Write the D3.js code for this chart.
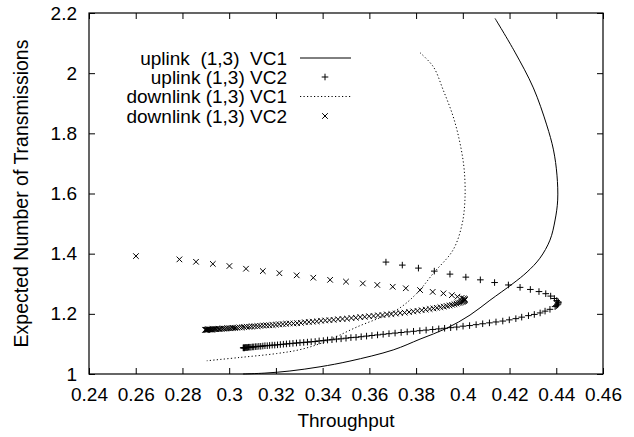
<!DOCTYPE html>
<html><head><meta charset="utf-8">
<script src="https://cdn.jsdelivr.net/npm/d3@7"></script>
<style>
html,body{margin:0;padding:0;background:#fff;}
svg text{font-family:"Liberation Sans",Arial,Helvetica,sans-serif;fill:#000;}
</style></head>
<body><svg id="c" width="634" height="437"></svg>
<script>
// ---- data ----
const xTicks = [0.24,0.26,0.28,0.30,0.32,0.34,0.36,0.38,0.40,0.42,0.44,0.46];
const xTickLabels = ["0.24","0.26","0.28","0.3","0.32","0.34","0.36","0.38","0.4","0.42","0.44","0.46"];
const yTicks = [1,1.2,1.4,1.6,1.8,2,2.2];
const yTickLabels = ["1","1.2","1.4","1.6","1.8","2","2.2"];
const seriesNames = ["uplink  (1,3)  VC1","uplink (1,3) VC2","downlink (1,3) VC1","downlink (1,3) VC2"];
const xTitle = "Throughput";
const yTitle = "Expected Number of Transmissions";

// uplink VC1 (solid line)
const upVC1 = [[0.4138,2.182],[0.4223,2.070],[0.4302,1.951],[0.4359,1.828],[0.4388,1.745],[0.4403,1.661],[0.4406,1.578],
 [0.4395,1.512],[0.4373,1.445],[0.4330,1.385],[0.4275,1.339],[0.4215,1.301],[0.4116,1.245],[0.4031,1.196],[0.3931,1.152],
 [0.3817,1.116],[0.3702,1.080],[0.3517,1.043],[0.3389,1.024],[0.3260,1.010],[0.3153,1.003],[0.3059,1.000]];

// downlink VC1 (dotted line)
const downVC1 = [[0.3817,2.068],[0.3874,2.021],[0.3916,1.944],[0.3959,1.855],[0.3988,1.767],[0.4006,1.678],[0.4009,1.578],
 [0.3996,1.495],[0.3958,1.412],[0.3874,1.335],[0.3803,1.268],[0.3717,1.213],[0.3546,1.156],[0.3403,1.105],[0.3303,1.081],
 [0.3203,1.068],[0.3046,1.055],[0.2904,1.044]];

// uplink VC2 (+ markers)
const upVC2x = [0.3060,0.3062,0.3064,0.3066,0.3069,0.3072,0.3075,0.3079,0.3083,0.3088,0.3093,0.3099,0.3105,0.3112,0.3119,0.3127,
 0.3135,0.3144,0.3153,0.3163,0.3173,0.3184,0.3195,0.3207,0.3219,0.3232,0.3245,0.3259,0.3273,0.3288,0.3303,0.3319,0.3335,0.3351,
 0.3368,0.3385,0.3403,0.3421,0.3440,0.3459,0.3479,0.3500,0.3521,0.3543,0.3565,0.3588,0.3611,0.3635,0.3659,0.3684,0.3710,0.3736,
 0.3762,0.3789,0.3816,0.3843,0.3871,0.3897,0.3922,0.3948,0.3974,0.4001,0.4029,0.4057,0.4085,0.4114,0.4142,0.4171,0.4199,0.4227,
 0.4252,0.4281,0.4306,0.4331,0.4352,0.4373,0.4395,0.4400,0.4405,0.4408,0.4409,0.4408,
 0.4402,0.4392,0.4376,0.4355,0.4326,0.4289,0.4245,0.4195,0.4136,0.4075,0.4013,0.3945,0.3878,0.3810,0.3741,0.3671];
const upVC2y = [1.087,1.087,1.087,1.087,1.088,1.088,1.088,1.088,1.089,1.089,1.089,1.090,1.090,1.091,1.091,1.092,
 1.092,1.093,1.094,1.094,1.095,1.096,1.096,1.097,1.098,1.099,1.100,1.101,1.102,1.103,1.104,1.105,1.106,1.107,
 1.108,1.110,1.111,1.113,1.114,1.116,1.117,1.119,1.121,1.122,1.124,1.126,1.128,1.130,1.132,1.134,1.136,1.138,
 1.140,1.142,1.144,1.146,1.148,1.150,1.152,1.154,1.156,1.159,1.161,1.164,1.167,1.170,1.173,1.176,1.180,1.184,
 1.189,1.194,1.198,1.203,1.209,1.215,1.224,1.227,1.230,1.233,1.237,1.240,
 1.244,1.251,1.259,1.267,1.274,1.281,1.288,1.296,1.304,1.313,1.322,1.332,1.342,1.352,1.362,1.372];

// downlink VC2 (x markers)
const downVC2x = [0.2897,0.2899,0.2901,0.2903,0.2905,0.2908,0.2911,0.2914,0.2917,0.2921,0.2925,0.2929,0.2934,0.2939,0.2944,0.2950,
 0.2956,0.2962,0.2969,0.2976,0.2983,0.2991,0.2999,0.3007,0.3016,0.3025,0.3034,0.3044,0.3054,0.3064,0.3075,0.3086,0.3097,0.3109,
 0.3121,0.3133,0.3146,0.3159,0.3172,0.3186,0.3200,0.3214,0.3229,0.3244,0.3259,0.3275,0.3291,0.3307,0.3324,0.3341,0.3358,0.3375,
 0.3393,0.3411,0.3429,0.3447,0.3466,0.3485,0.3504,0.3523,0.3542,0.3561,0.3580,0.3599,0.3618,0.3637,0.3656,0.3675,0.3694,0.3713,
 0.3732,0.3751,0.3770,0.3788,0.3806,0.3824,0.3841,0.3858,0.3874,0.3889,0.3904,0.3918,0.3931,0.3943,0.3954,0.3964,0.3973,0.3981,
 0.3988,0.3994,0.3999,0.4003,0.4006,0.4008,0.4009,
 0.4008,0.4004,0.3995,0.3977,0.3953,0.3917,0.3871,0.3817,0.3756,0.3700,0.3634,0.3572,0.3500,0.3432,0.3360,0.3289,0.3215,0.3144,
 0.3072,0.3001,0.2930,0.2858,0.2787,0.2601];
const downVC2y = [1.147,1.147,1.147,1.147,1.147,1.148,1.148,1.148,1.148,1.148,1.148,1.149,1.149,1.149,1.149,1.150,
 1.150,1.150,1.151,1.151,1.151,1.152,1.152,1.152,1.153,1.153,1.154,1.155,1.155,1.156,1.157,1.157,1.158,1.159,
 1.159,1.160,1.161,1.162,1.162,1.163,1.164,1.165,1.166,1.167,1.168,1.168,1.169,1.170,1.172,1.173,1.174,1.175,
 1.177,1.178,1.179,1.180,1.182,1.183,1.184,1.186,1.187,1.189,1.190,1.192,1.193,1.195,1.196,1.198,1.199,1.201,
 1.203,1.204,1.206,1.208,1.210,1.212,1.214,1.216,1.218,1.220,1.222,1.224,1.226,1.228,1.230,1.232,1.234,1.236,
 1.237,1.239,1.240,1.242,1.243,1.245,1.247,
 1.249,1.251,1.253,1.257,1.262,1.268,1.273,1.279,1.285,1.290,1.296,1.301,1.307,1.313,1.320,1.328,1.335,1.342,
 1.350,1.359,1.366,1.373,1.381,1.392];

// ---- drawing ----
const W = 634, H = 437;
const m = {left:89, right:603, top:13, bottom:374};
const FS = 19;
const svg = d3.select("#c");
svg.append("rect").attr("width",W).attr("height",H).attr("fill","#fff");

const x = d3.scaleLinear().domain([0.24,0.46]).range([m.left,m.right]);
const y = d3.scaleLinear().domain([1,2.2]).range([m.bottom,m.top]);
const TL = 6;

const gx = svg.append("g").attr("transform",`translate(0,${m.bottom})`)
  .call(d3.axisBottom(x).tickValues(xTicks).tickSize(-TL).tickPadding(13.5)
    .tickFormat((d,i)=>xTickLabels[i]));
const gy = svg.append("g").attr("transform",`translate(${m.left},0)`)
  .call(d3.axisLeft(y).tickValues(yTicks).tickSize(-TL).tickPadding(12)
    .tickFormat((d,i)=>yTickLabels[i]));
const gxt = svg.append("g").attr("transform",`translate(0,${m.top})`)
  .call(d3.axisTop(x).tickValues(xTicks).tickSize(-TL).tickFormat(""));
const gyr = svg.append("g").attr("transform",`translate(${m.right},0)`)
  .call(d3.axisRight(y).tickValues(yTicks).tickSize(-TL).tickFormat(""));
[gx,gy,gxt,gyr].forEach(g=>{
  g.select(".domain").remove();
  g.selectAll("line").attr("stroke","#000").attr("stroke-width",1);
  g.selectAll("text").attr("font-size",FS).attr("font-family","Liberation Sans, Arial, sans-serif").attr("fill","#000");
});
svg.append("rect").attr("x",m.left).attr("y",m.top).attr("width",m.right-m.left).attr("height",m.bottom-m.top)
  .attr("fill","none").attr("stroke","#000").attr("stroke-width",1.2);

// titles
svg.append("text").attr("x",346).attr("y",426.5).attr("text-anchor","middle")
  .attr("font-size",FS).text(xTitle);
svg.append("text").attr("transform",`translate(27.5,${(m.top+m.bottom)/2}) rotate(-90)`)
  .attr("text-anchor","middle").attr("font-size",FS+0.5).text(yTitle);

// curves
const line = d3.line().x(d=>x(d[0])).y(d=>y(d[1])).curve(d3.curveCatmullRom.alpha(0.5));
svg.append("path").datum(upVC1).attr("d",line).attr("fill","none").attr("stroke","#000").attr("stroke-width",1);
svg.append("path").datum(downVC1).attr("d",line).attr("fill","none").attr("stroke","#000").attr("stroke-width",1)
  .attr("stroke-dasharray","1.2,2.3");

// markers
const plusPath = s => `M${-s},0H${s}M0,${-s}V${s}`;
const crossPath = s => `M${-s},${-s}L${s},${s}M${-s},${s}L${s},${-s}`;
svg.append("g").selectAll("path").data(d3.range(upVC2x.length)).join("path")
  .attr("transform",i=>`translate(${x(upVC2x[i])},${y(upVC2y[i])})`)
  .attr("d",plusPath(3.3)).attr("stroke","#000").attr("stroke-width",1).attr("fill","none");
svg.append("g").selectAll("path").data(d3.range(downVC2x.length)).join("path")
  .attr("transform",i=>`translate(${x(downVC2x[i])},${y(downVC2y[i])})`)
  .attr("d",crossPath(2.8)).attr("stroke","#000").attr("stroke-width",1).attr("fill","none");

// legend
const lgY = [58,77,96.5,116];
const lg = svg.append("g");
seriesNames.forEach((name,i)=>{
  lg.append("text").attr("x",287).attr("y",lgY[i]).attr("dy","0.35em").attr("text-anchor","end")
    .attr("font-size",FS).style("white-space","pre").text(name);
});
lg.append("line").attr("x1",300).attr("x2",351).attr("y1",lgY[0]).attr("y2",lgY[0]).attr("stroke","#000");
lg.append("line").attr("x1",300).attr("x2",351).attr("y1",lgY[2]).attr("y2",lgY[2]).attr("stroke","#000")
  .attr("stroke-dasharray","1.2,2.3");
lg.append("path").attr("transform",`translate(325,${lgY[1]})`).attr("d",plusPath(3.3)).attr("stroke","#000");
lg.append("path").attr("transform",`translate(325,${lgY[3]})`).attr("d",crossPath(2.8)).attr("stroke","#000");
</script></body></html>
